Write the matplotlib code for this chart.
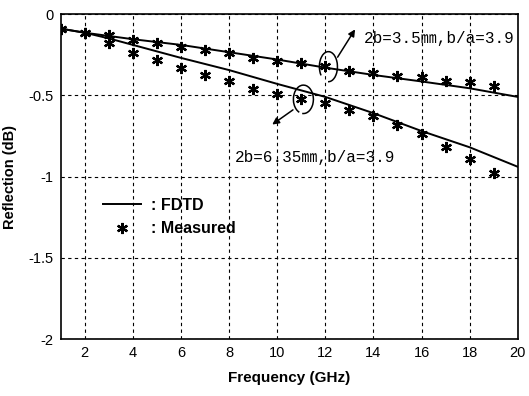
import matplotlib.pyplot as plt
from matplotlib.patches import Arc

freq = [1, 2, 3, 4, 5, 6, 7, 8, 9, 10, 11, 12, 13, 14, 15, 16, 17, 18, 19]
meas_35 = [-0.094, -0.119, -0.129, -0.16, -0.18, -0.20, -0.22, -0.24, -0.27, -0.29,
           -0.30, -0.32, -0.35, -0.36, -0.38, -0.39, -0.41, -0.42, -0.44]
meas_635 = [-0.094, -0.119, -0.18, -0.24, -0.28, -0.33, -0.375, -0.41, -0.46, -0.49,
            -0.52, -0.55, -0.59, -0.63, -0.68, -0.74, -0.82, -0.89, -0.98]

fdtd_freq = [1, 2, 3, 4, 6, 8, 10, 12, 14, 16, 18, 20]
fdtd_35 = [-0.09, -0.115, -0.135, -0.155, -0.19, -0.235, -0.28, -0.33, -0.375, -0.415, -0.457, -0.51]
fdtd_635 = [-0.09, -0.115, -0.15, -0.19, -0.27, -0.345, -0.43, -0.51, -0.61, -0.72, -0.82, -0.94]

label_35 = "2b=3.5㎜,b/a=3.9"
label_635 = "2b=6.35㎜,b/a=3.9"

fig = plt.figure(figsize=(5.29, 3.96), dpi=100)
ax = fig.add_axes([0.1147, 0.1439, 0.864, 0.8207])

ast = (6, 2, 0)
ax.plot(fdtd_freq, fdtd_35, color='black', lw=1.4, label=': FDTD')
ax.plot(fdtd_freq, fdtd_635, color='black', lw=1.4)
ax.plot(freq, meas_35, ls='none', marker=ast, ms=8, mew=1.6, color='black', label=': Measured')
ax.plot(freq, meas_635, ls='none', marker=ast, ms=8, mew=1.6, color='black')

ax.set_xlim(1, 20)
ax.set_ylim(-2, 0)
ax.set_xticks(range(2, 21, 2))
ax.set_yticks([0, -0.5, -1, -1.5, -2])
ax.set_yticklabels(['0', '-0.5', '-1', '-1.5', '-2'])
ax.grid(True, color='black', ls=(0, (3, 3)), lw=0.8)
ax.tick_params(length=0, labelsize=10.5, pad=5)
for lab in ax.get_xticklabels() + ax.get_yticklabels():
    lab.set_family('Liberation Sans')
for s in ax.spines.values():
    s.set_linewidth(1.2)

ax.set_xlabel('Frequency (GHz)', fontsize=11, family='Liberation Sans',
              fontweight='bold', labelpad=8)
ax.set_ylabel('Reflection (dB)', fontsize=10.5, family='Liberation Sans',
              fontweight='bold', labelpad=8)

# annotations
ax.add_patch(Arc((12.13, -0.324), 0.75, 0.185, theta1=-100, theta2=190, color='black', lw=1.1))
ax.annotate('', xy=(13.3, -0.08), xytext=(12.45, -0.28),
            arrowprops=dict(arrowstyle='-|>', color='black', lw=1.1, mutation_scale=10))
ax.text(13.6, -0.15, label_35, fontsize=11.5, va='center',
        family=['Liberation Mono', 'Noto Sans CJK KR'])

ax.add_patch(Arc((11.09, -0.525), 0.83, 0.175, theta1=240, theta2=205, color='black', lw=1.1))
ax.annotate('', xy=(9.7, -0.69), xytext=(10.75, -0.58),
            arrowprops=dict(arrowstyle='-|>', color='black', lw=1.1, mutation_scale=10))
ax.text(8.25, -0.88, label_635, fontsize=11.5, va='center',
        family=['Liberation Mono', 'Noto Sans CJK KR'])

leg = ax.legend(loc='upper left', bbox_to_anchor=(0.0926, 0.435), frameon=False,
                borderaxespad=0, borderpad=0,
                handlelength=2.4, handletextpad=0.6, labelspacing=0.55,
                prop={'family': 'Liberation Sans', 'size': 11.5, 'weight': 'bold'})

fig.savefig('out.png', dpi=100)
